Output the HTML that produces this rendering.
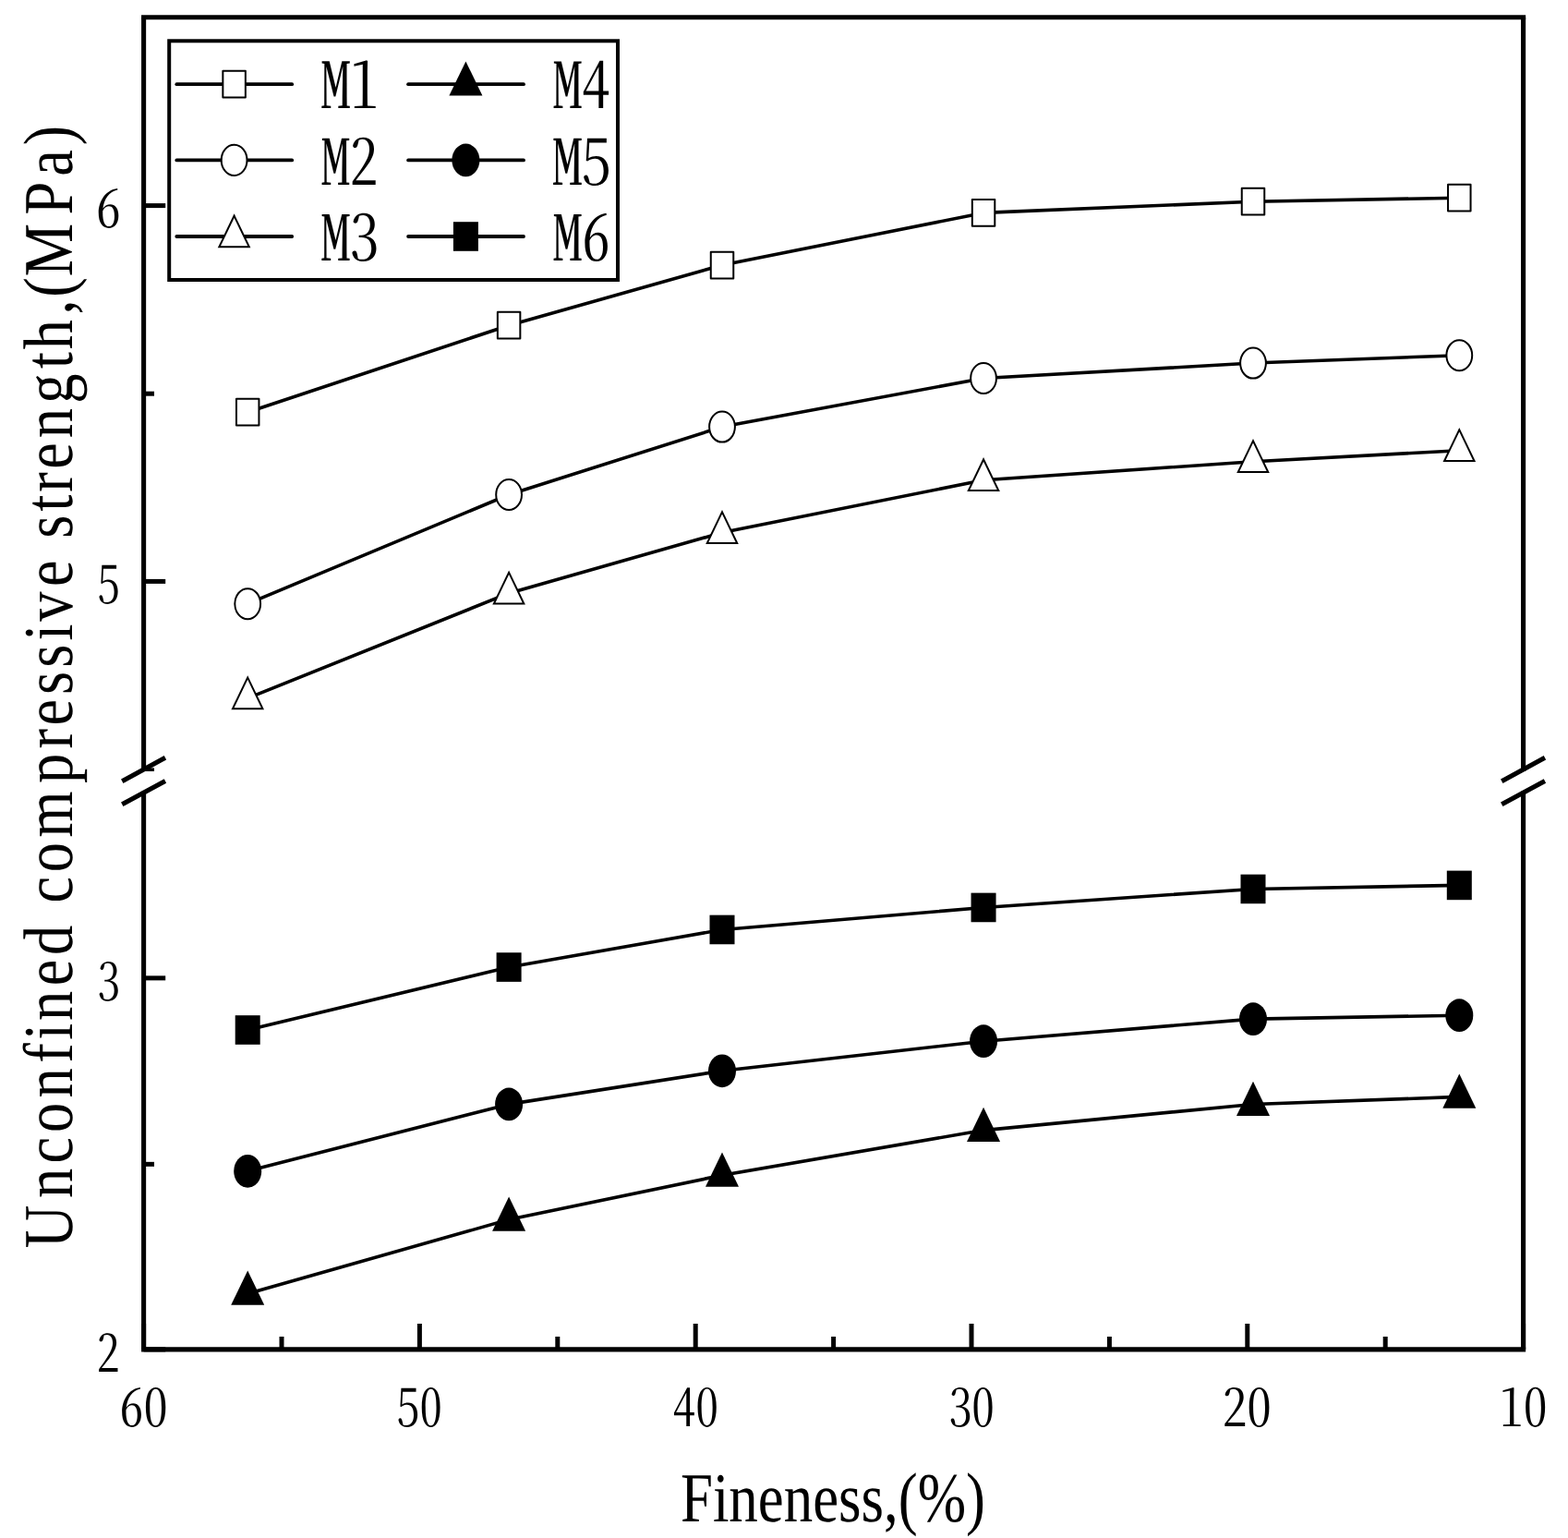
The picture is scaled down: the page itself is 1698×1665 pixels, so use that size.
<!DOCTYPE html>
<html lang="en">
<head>
<meta charset="utf-8">
<title>Unconfined compressive strength vs fineness</title>
<style>
html,body{margin:0;padding:0;background:#fff;}
body{width:1698px;height:1665px;overflow:hidden;}
svg{display:block;}
text{font-family:"Liberation Serif","Times New Roman",serif;fill:#000;text-rendering:geometricPrecision;font-kerning:none;font-variant-ligatures:none;}
.num text{font-family:"Noto Serif CJK SC","Liberation Serif",serif;font-weight:400;font-feature-settings:"hwid" 1;}
.num text.w3{font-weight:300;}
.num text.w5{font-weight:500;}
.num text.w6{font-weight:600;}
.num text.w7{font-weight:700;}
</style>
</head>
<body>
<svg width="1698" height="1665" viewBox="0 0 1698 1665" role="img" aria-label="Unconfined compressive strength versus fineness for mixes M1 to M6">
<rect x="0" y="0" width="1698" height="1665" fill="#fff"/>
<g id="axes" fill="none" stroke="#000" stroke-width="5.1" stroke-linecap="butt">
<path d="M153.05 18.7 H1652.15"/>
<path d="M153.05 1460.9 H1652.15"/>
<path d="M155.6 18.7 V835"/>
<path d="M155.6 856.7 V1460.9"/>
<path d="M1649.6 18.7 V835"/>
<path d="M1649.6 856.7 V1460.9"/>
<path d="M132.25 845.65 L178.95 820.35"/>
<path d="M132.25 870.85 L178.95 845.55"/>
<path d="M1626.25 845.65 L1672.95 820.35"/>
<path d="M1626.25 870.85 L1672.95 845.55"/>
</g>
<g id="ticks" stroke="#000" stroke-width="5" fill="none">
<path d="M155.6 222.6 H179.2"/>
<path d="M155.6 629.4 H179.2"/>
<path d="M155.6 1058.85 H179.2"/>
<path d="M155.6 1460.9 H179.2"/>
<path d="M155.6 426.2 H167"/>
<path d="M155.6 1260.35 H167"/>
<path d="M155.6 833.2 H167" stroke-width="3.6"/>
<path d="M155.6 1460.9 V1433"/>
<path d="M454.4 1460.9 V1433"/>
<path d="M753.2 1460.9 V1433"/>
<path d="M1052 1460.9 V1433"/>
<path d="M1350.8 1460.9 V1433"/>
<path d="M1649.6 1460.9 V1433"/>
<path d="M305 1460.9 V1447"/>
<path d="M603.8 1460.9 V1447"/>
<path d="M902.6 1460.9 V1447"/>
<path d="M1201.4 1460.9 V1447"/>
<path d="M1500.2 1460.9 V1447"/>
</g>
<g id="series">
<g id="m1">
<polyline fill="none" stroke="#000" stroke-width="3.6" stroke-linejoin="round" points="268.2,446.2 551.1,352.2 782,287.1 1065.05,230.4 1357,218.2 1580.3,214.2"/>
<rect x="255.95" y="431.8" width="24.5" height="28.8" fill="#fff" stroke="#000" stroke-width="2" stroke-linejoin="round"/>
<rect x="538.85" y="337.8" width="24.5" height="28.8" fill="#fff" stroke="#000" stroke-width="2" stroke-linejoin="round"/>
<rect x="769.75" y="272.7" width="24.5" height="28.8" fill="#fff" stroke="#000" stroke-width="2" stroke-linejoin="round"/>
<rect x="1052.8" y="216" width="24.5" height="28.8" fill="#fff" stroke="#000" stroke-width="2" stroke-linejoin="round"/>
<rect x="1344.75" y="203.8" width="24.5" height="28.8" fill="#fff" stroke="#000" stroke-width="2" stroke-linejoin="round"/>
<rect x="1568.05" y="199.8" width="24.5" height="28.8" fill="#fff" stroke="#000" stroke-width="2" stroke-linejoin="round"/>
</g>
<g id="m2">
<polyline fill="none" stroke="#000" stroke-width="3.6" stroke-linejoin="round" points="268.2,653.7 551.1,535.5 782,462.05 1065.05,409.5 1357,393.05 1580.3,384.7"/>
<ellipse cx="268.2" cy="653.7" rx="13.9" ry="16.55" fill="#fff" stroke="#000" stroke-width="2"/>
<ellipse cx="551.1" cy="535.5" rx="13.9" ry="16.55" fill="#fff" stroke="#000" stroke-width="2"/>
<ellipse cx="782" cy="462.05" rx="13.9" ry="16.55" fill="#fff" stroke="#000" stroke-width="2"/>
<ellipse cx="1065.05" cy="409.5" rx="13.9" ry="16.55" fill="#fff" stroke="#000" stroke-width="2"/>
<ellipse cx="1357" cy="393.05" rx="13.9" ry="16.55" fill="#fff" stroke="#000" stroke-width="2"/>
<ellipse cx="1580.3" cy="384.7" rx="13.9" ry="16.55" fill="#fff" stroke="#000" stroke-width="2"/>
</g>
<g id="m3">
<polyline fill="none" stroke="#000" stroke-width="3.6" stroke-linejoin="round" points="268.2,755.9 551.1,642.2 782,576.6 1065.05,519.8 1357,499.7 1580.3,487.7"/>
<polygon points="268.2,731.2 286,768.2 250.4,768.2" fill="#000"/><polygon points="268.2,735.81 282.82,766.2 253.58,766.2" fill="#fff"/>
<polygon points="551.1,617.5 568.9,654.5 533.3,654.5" fill="#000"/><polygon points="551.1,622.11 565.72,652.5 536.48,652.5" fill="#fff"/>
<polygon points="782,551.9 799.8,588.9 764.2,588.9" fill="#000"/><polygon points="782,556.51 796.62,586.9 767.38,586.9" fill="#fff"/>
<polygon points="1065.05,495.1 1082.85,532.1 1047.25,532.1" fill="#000"/><polygon points="1065.05,499.71 1079.67,530.1 1050.43,530.1" fill="#fff"/>
<polygon points="1357,475 1374.8,512 1339.2,512" fill="#000"/><polygon points="1357,479.61 1371.62,510 1342.38,510" fill="#fff"/>
<polygon points="1580.3,463 1598.1,500 1562.5,500" fill="#000"/><polygon points="1580.3,467.61 1594.92,498 1565.68,498" fill="#fff"/>
</g>
<g id="m6">
<polyline fill="none" stroke="#000" stroke-width="3.6" stroke-linejoin="round" points="268.2,1115 551.1,1047.05 782,1006.45 1065.05,982.45 1357,962.45 1580.3,958.4"/>
<rect x="254.7" y="1099.2" width="27" height="31.6" fill="#000"/>
<rect x="537.6" y="1031.25" width="27" height="31.6" fill="#000"/>
<rect x="768.5" y="990.65" width="27" height="31.6" fill="#000"/>
<rect x="1051.55" y="966.65" width="27" height="31.6" fill="#000"/>
<rect x="1343.5" y="946.65" width="27" height="31.6" fill="#000"/>
<rect x="1566.8" y="942.6" width="27" height="31.6" fill="#000"/>
</g>
<g id="m5">
<polyline fill="none" stroke="#000" stroke-width="3.6" stroke-linejoin="round" points="268.2,1267.8 551.1,1195.4 782,1159.3 1065.05,1127.2 1357,1103.15 1580.3,1099.2"/>
<ellipse cx="268.2" cy="1267.8" rx="15" ry="17.85" fill="#000"/>
<ellipse cx="551.1" cy="1195.4" rx="15" ry="17.85" fill="#000"/>
<ellipse cx="782" cy="1159.3" rx="15" ry="17.85" fill="#000"/>
<ellipse cx="1065.05" cy="1127.2" rx="15" ry="17.85" fill="#000"/>
<ellipse cx="1357" cy="1103.15" rx="15" ry="17.85" fill="#000"/>
<ellipse cx="1580.3" cy="1099.2" rx="15" ry="17.85" fill="#000"/>
</g>
<g id="m4">
<polyline fill="none" stroke="#000" stroke-width="3.6" stroke-linejoin="round" points="268.2,1400.4 551.1,1320.3 782,1272.3 1065.05,1223.6 1357,1195.5 1580.3,1187.4"/>
<polygon points="268.2,1375.6 286.2,1412.8 250.2,1412.8" fill="#000"/>
<polygon points="551.1,1295.5 569.1,1332.7 533.1,1332.7" fill="#000"/>
<polygon points="782,1247.5 800,1284.7 764,1284.7" fill="#000"/>
<polygon points="1065.05,1198.8 1083.05,1236 1047.05,1236" fill="#000"/>
<polygon points="1357,1170.7 1375,1207.9 1339,1207.9" fill="#000"/>
<polygon points="1580.3,1162.6 1598.3,1199.8 1562.3,1199.8" fill="#000"/>
</g>
</g>
<g id="legend" class="num">
<rect x="183.2" y="44.3" width="485.8" height="258.7" fill="#fff" stroke="#000" stroke-width="4"/>
<path d="M191.3 91.2 H316.2" stroke="#000" stroke-width="3.8" stroke-linecap="round" fill="none"/>
<rect x="241.35" y="76.8" width="24.5" height="28.8" fill="#fff" stroke="#000" stroke-width="2" stroke-linejoin="round"/>
<text transform="matrix(0.6258 0 0 0.6788 347.9 117)" font-size="100" textLength="100" lengthAdjust="spacingAndGlyphs">M1</text>
<path d="M191.3 173.4 H316.2" stroke="#000" stroke-width="3.8" stroke-linecap="round" fill="none"/>
<ellipse cx="253.6" cy="173.4" rx="13.9" ry="16.55" fill="#fff" stroke="#000" stroke-width="2"/>
<text transform="matrix(0.6093 0 0 0.6729 348.32 199.95)" font-size="100" textLength="100" lengthAdjust="spacingAndGlyphs">M2</text>
<path d="M191.3 256 H316.2" stroke="#000" stroke-width="3.8" stroke-linecap="round" fill="none"/>
<polygon points="253.6,231.3 271.4,268.3 235.8,268.3" fill="#000"/><polygon points="253.6,235.91 268.22,266.3 238.98,266.3" fill="#fff"/>
<text transform="matrix(0.6218 0 0 0.6710 348 281.88)" font-size="100" textLength="100" lengthAdjust="spacingAndGlyphs">M3</text>
<path d="M442.1 91.2 H567" stroke="#000" stroke-width="3.8" stroke-linecap="round" fill="none"/>
<polygon points="504.4,66.4 522.4,103.6 486.4,103.6" fill="#000"/>
<text transform="matrix(0.6180 0 0 0.6773 599.15 117)" font-size="100" textLength="100" lengthAdjust="spacingAndGlyphs">M4</text>
<path d="M442.1 173.4 H567" stroke="#000" stroke-width="3.8" stroke-linecap="round" fill="none"/>
<ellipse cx="504.4" cy="173.4" rx="15" ry="17.85" fill="#000"/>
<text transform="matrix(0.6304 0 0 0.6732 598.84 199.88)" font-size="100" textLength="100" lengthAdjust="spacingAndGlyphs">M5</text>
<path d="M442.1 256 H567" stroke="#000" stroke-width="3.8" stroke-linecap="round" fill="none"/>
<rect x="490.9" y="240.2" width="27" height="31.6" fill="#000"/>
<text transform="matrix(0.6178 0 0 0.6710 599.15 281.88)" font-size="100" textLength="100" lengthAdjust="spacingAndGlyphs">M6</text>
</g>
<g id="ticklabels" class="num">
<text transform="matrix(0.5443 0 0 0.5521 103.71 246.31)" font-size="100" textLength="50" lengthAdjust="spacingAndGlyphs">6</text>
<text transform="matrix(0.4754 0 0 0.5531 106.07 653.41)" font-size="100" textLength="50" lengthAdjust="spacingAndGlyphs">5</text>
<text transform="matrix(0.4813 0 0 0.5520 105.66 1082.91)" font-size="100" textLength="50" lengthAdjust="spacingAndGlyphs">3</text>
<text transform="matrix(0.4953 0 0 0.5492 104.77 1485.1)" font-size="100" textLength="50" lengthAdjust="spacingAndGlyphs">2</text>
<text transform="matrix(0.5246 0 0 0.5508 129.25 1544.11)" font-size="100" textLength="100" lengthAdjust="spacingAndGlyphs">60</text>
<text transform="matrix(0.4868 0 0 0.5512 430.09 1544.11)" font-size="100" textLength="100" lengthAdjust="spacingAndGlyphs">50</text>
<text transform="matrix(0.4962 0 0 0.5517 728.39 1544.11)" font-size="100" textLength="100" lengthAdjust="spacingAndGlyphs">40</text>
<text transform="matrix(0.4922 0 0 0.5507 1027.69 1544.11)" font-size="100" textLength="100" lengthAdjust="spacingAndGlyphs">30</text>
<text transform="matrix(0.5324 0 0 0.5500 1323.73 1544.06)" font-size="100" textLength="100" lengthAdjust="spacingAndGlyphs">20</text>
<text transform="matrix(0.5157 0 0 0.5531 1623.93 1544.11)" font-size="100" textLength="100" lengthAdjust="spacingAndGlyphs">10</text>
</g>
<text id="xtitle" transform="matrix(0.6290 0 0 0.7600 736.9 1647.3)" font-size="100">Fineness,(%)</text>
<text id="ytitle" transform="translate(78.3 1351.35) rotate(-90) scale(0.6450 0.7600)" font-size="100" x="0 84.2 142.49 194.24 252.53 310.83 349.65 382.05 440.34 492.09 550.38 579.53 631.28 689.57 780.26 838.55 877.38 929.13 974.5 1019.87 1052.26 1110.56 1162.3 1191.45 1236.82 1269.22 1308.04 1359.79 1418.08 1476.38 1508.77 1567.07 1596.21 1631.01 1734.67 1799.51 1851.26">Unconfined compressive strength,(MPa)</text>
</svg>
</body>
</html>
